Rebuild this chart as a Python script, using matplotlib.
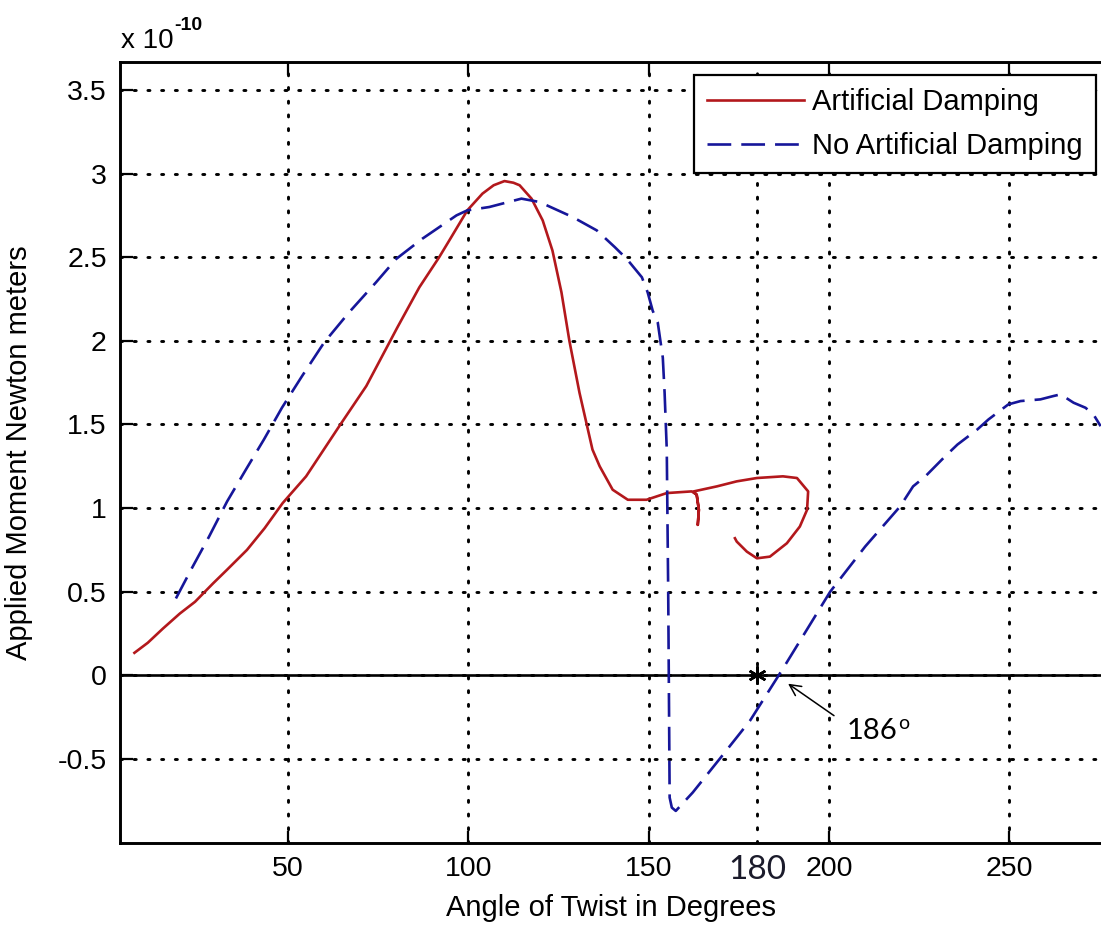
import matplotlib
matplotlib.use("Agg")
import matplotlib.pyplot as plt
import matplotlib.transforms as mtransforms

# ---------------- data (moment in units of 1e-10 N·m) ----------------
damped_angle = [7.4, 11.1, 15.3, 20.0, 24.2, 29.2, 33.0, 38.6, 43.5, 48.5,
                55.0, 64.2, 71.7, 80.3, 86.4, 91.9, 94.7, 99.7, 103.9, 107.0,
                110.0, 112.5, 114.2, 117.5, 120.6, 123.3, 125.8, 128.0, 130.8,
                134.4, 136.4, 140.0, 144.2, 149.4, 155.0, 161.9, 163.3, 163.9,
                163.6, 163.9, 163.3, 162.5, 168.9, 174.4, 180.0, 187.2, 191.1,
                194.2, 193.9, 191.9, 188.3, 183.6, 180.0, 177.2, 174.4, 173.9]
damped_moment = [0.135, 0.195, 0.28, 0.37, 0.44, 0.55, 0.63, 0.75, 0.88, 1.03,
                 1.19, 1.49, 1.73, 2.08, 2.32, 2.50, 2.60, 2.78, 2.88, 2.93,
                 2.955, 2.945, 2.93, 2.85, 2.72, 2.54, 2.29, 2.00, 1.69,
                 1.35, 1.25, 1.11, 1.05, 1.05, 1.09, 1.10, 1.08, 0.99,
                 0.90, 0.99, 1.08, 1.10, 1.13, 1.16, 1.18, 1.19, 1.18,
                 1.10, 0.99, 0.89, 0.79, 0.71, 0.70, 0.74, 0.80, 0.82]

undamped_angle = [18.9, 23.3, 28.1, 33.1, 38.3, 43.3, 48.3, 53.9, 60.0, 66.9,
                  74.4, 80.0, 87.2, 96.7, 99.7, 105.8, 114.7, 119.7, 128.9,
                  135.6, 140.6, 143.9, 148.1, 149.7, 151.1, 152.5, 153.9, 154.4,
                  155.0, 155.4, 155.8, 156.4, 157.5, 159.2, 162.2, 170.0, 178.1,
                  187.2, 200.3, 210.0, 219.7, 223.3, 226.7, 232.2, 235.6, 241.1,
                  244.2, 249.7, 253.1, 258.6, 262.2, 264.2, 267.8, 271.1, 273.3,
                  275.3]
undamped_moment = [0.46, 0.64, 0.83, 1.04, 1.23, 1.41, 1.60, 1.79, 1.99, 2.17,
                   2.35, 2.49, 2.61, 2.75, 2.78, 2.80, 2.85, 2.83, 2.74,
                   2.66, 2.56, 2.49, 2.38, 2.29, 2.18, 2.11, 1.90, 1.69,
                   1.35, 0.50, -0.73, -0.79, -0.81, -0.77, -0.70, -0.49, -0.27,
                   0.04, 0.50, 0.77, 1.01, 1.13, 1.19, 1.31, 1.38, 1.47,
                   1.53, 1.62, 1.64, 1.65, 1.67, 1.68, 1.63, 1.60, 1.56,
                   1.49]

x_ticks = [50, 100, 150, 200, 250]
y_ticks = [-0.5, 0, 0.5, 1, 1.5, 2, 2.5, 3, 3.5]
y_tick_labels = ["-0.5", "0", "0.5", "1", "1.5", "2", "2.5", "3", "3.5"]
series_labels = ["Artificial Damping", "No Artificial Damping"]
marked_angle = 180
crossing_angle = 186

# ---------------- styling ----------------
plt.rcParams['font.family'] = ['Liberation Sans', 'DejaVu Sans']
plt.rcParams['mathtext.default'] = 'regular'
RED = '#b3181c'
BLUE = '#16169a'
GRID_LS = (0, (0.7, 4.0))
GRID_LW = 2.1

fig = plt.figure(figsize=(11.01, 9.26), dpi=100)
ax = fig.add_axes([120 / 1101, 1 - 842.7 / 926, 1 - 120 / 1101, (842.7 - 62.3) / 926])

ax.plot(damped_angle, damped_moment, color=RED, lw=1.9, label=series_labels[0],
        solid_joinstyle='round')
ax.plot(undamped_angle, undamped_moment, color=BLUE, lw=1.9,
        linestyle=(0, (9, 3.8)), label=series_labels[1])

ax.set_xlim(3.4, 275.4)
ax.set_ylim(-1.0, 3.665)
ax.set_xticks(x_ticks)
ax.set_yticks(y_ticks)
ax.set_yticklabels(y_tick_labels)

ax.grid(True, color='black', linestyle=GRID_LS, lw=GRID_LW, dash_capstyle='round')
ax.axvline(marked_angle, color='black', linestyle=GRID_LS, lw=GRID_LW,
           dash_capstyle='round', zorder=0.5)
ax.axhline(0, color='black', lw=1.9, zorder=1.5)
ax.plot([marked_angle], [0], marker=(6, 2, 0), color='black', markersize=13,
        markeredgewidth=1.8, zorder=3)

ax.tick_params(direction='in', length=9, width=1.6, labelsize=20.5,
               top=True, right=False, pad=9.5)
for side in ['left', 'top', 'bottom']:
    ax.spines[side].set_linewidth(2.1)
ax.spines['right'].set_visible(False)

ax.set_xlabel("Angle of Twist in Degrees", fontsize=21, labelpad=9)
ax.set_ylabel("Applied Moment Newton meters", fontsize=21, labelpad=18)

# offset label
fig.text(121 / 1101, 1 - 48 / 926, "x 10", fontsize=20, ha='left', va='baseline')
fig.text(174 / 1101, 1 - 30 / 926, "-10", fontsize=14, ha='left', va='baseline',
         fontweight='bold')

# extra 180 label
trans = mtransforms.blended_transform_factory(ax.transData, ax.transAxes)
ax.text(marked_angle, -0.035, "180", transform=trans, ha='center', va='center',
        fontsize=24, family='Lato', color='#1b1b2b')

# annotation 186°
ax.annotate("", xy=(188.0, -0.04), xytext=(202.0, -0.25),
            arrowprops=dict(arrowstyle='->', color='black', lw=1.1,
                            mutation_scale=20))
ax.text(204.8, -0.33, str(crossing_angle), ha='left', va='center', fontsize=21,
        family='Lato', color='black')
ax.text(219.2, -0.29, "o", ha='left', va='center', fontsize=14,
        family='Lato', color='black')

leg = ax.legend(loc='upper right', bbox_to_anchor=(1096 / 1101, 1 - 75 / 926),
                bbox_transform=fig.transFigure, borderaxespad=0,
                fontsize=21, handlelength=3.3, handletextpad=0.3,
                fancybox=False, framealpha=1, edgecolor='black',
                borderpad=0.45, labelspacing=0.55)
leg.get_frame().set_linewidth(1.6)

fig.savefig("out.png", dpi=100)
